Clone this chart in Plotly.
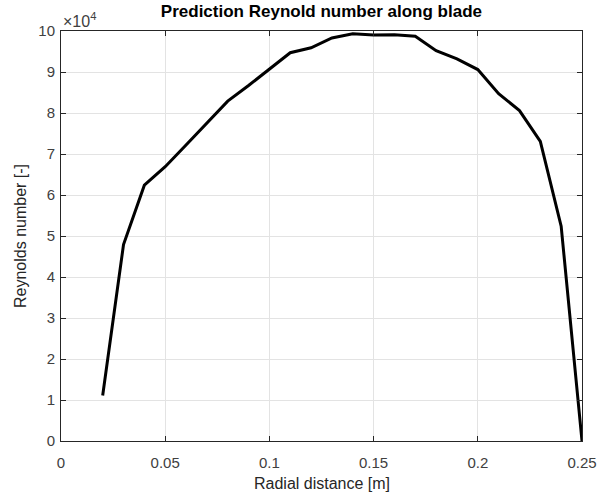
import plotly.graph_objects as go

radial_distance = [0.02, 0.03, 0.04, 0.05, 0.06, 0.07, 0.08, 0.09, 0.10, 0.11, 0.12, 0.13,
                   0.14, 0.15, 0.16, 0.17, 0.18, 0.19, 0.20, 0.21, 0.22, 0.23, 0.24, 0.25]
reynolds = [11100, 47900, 62400, 66900, 72200, 77600, 82900, 86700, 90700, 94700, 95900, 98300,
            99300, 99000, 99100, 98700, 95200, 93200, 90600, 84700, 80600, 73100, 52400, 0]

x_ticks = [0, 0.05, 0.1, 0.15, 0.2, 0.25]
x_ticktext = ["0", "0.05", "0.1", "0.15", "0.2", "0.25"]
y_ticks = [i * 10000 for i in range(11)]
y_ticktext = [str(i) for i in range(11)]

FONT = "Liberation Sans, Arial, Helvetica, sans-serif"
AX = "#262626"
TICK_COLOR = "#404040"

fig = go.Figure()
fig.add_trace(go.Scatter(x=radial_distance, y=reynolds, mode="lines",
                         line=dict(color="black", width=3), showlegend=False))

axis_common = dict(showline=True, linecolor=AX, linewidth=1, mirror="ticks",
                   ticks="inside", ticklen=5, tickcolor=AX, tickwidth=1,
                   showgrid=True, gridcolor="#e3e3e3", gridwidth=1, zeroline=False,
                   automargin=False,
                   tickfont=dict(family=FONT, size=15, color=TICK_COLOR))

fig.update_xaxes(range=[0, 0.25], tickvals=x_ticks, ticktext=x_ticktext,
                 ticklabelstandoff=8, **axis_common)
fig.update_yaxes(range=[0, 100000], tickvals=y_ticks, ticktext=y_ticktext,
                 ticklabelstandoff=2, **axis_common)

# axis titles
fig.add_annotation(text="Radial distance [m]", xref="paper", yref="paper", x=0.5, y=0,
                   xanchor="center", yanchor="middle", yshift=-42, showarrow=False,
                   font=dict(family=FONT, size=16, color=AX))
fig.add_annotation(text="Reynolds number [-]", xref="paper", yref="paper", x=0, y=0.5,
                   xanchor="center", yanchor="middle", xshift=-41, textangle=-90, showarrow=False,
                   font=dict(family=FONT, size=16, color=AX))

# exponent label
fig.add_annotation(text="\u00d710<sup>4</sup>", xref="paper", yref="paper", x=0, y=1,
                   xanchor="left", yanchor="bottom", showarrow=False, yshift=-1,
                   font=dict(family=FONT, size=16, color=TICK_COLOR))

fig.update_layout(
    width=598, height=496,
    margin=dict(l=61, r=16, t=31, b=55),
    paper_bgcolor="white", plot_bgcolor="white",
    title=dict(text="<b>Prediction Reynold number along blade</b>", x=0.5375, xanchor="center",
               y=0.99, yanchor="top", font=dict(family=FONT, size=17, color="black")),
)

fig.write_html("out.html", config={"displayModeBar": False},
               post_script="document.body.style.margin='0';document.body.style.padding='0';")
